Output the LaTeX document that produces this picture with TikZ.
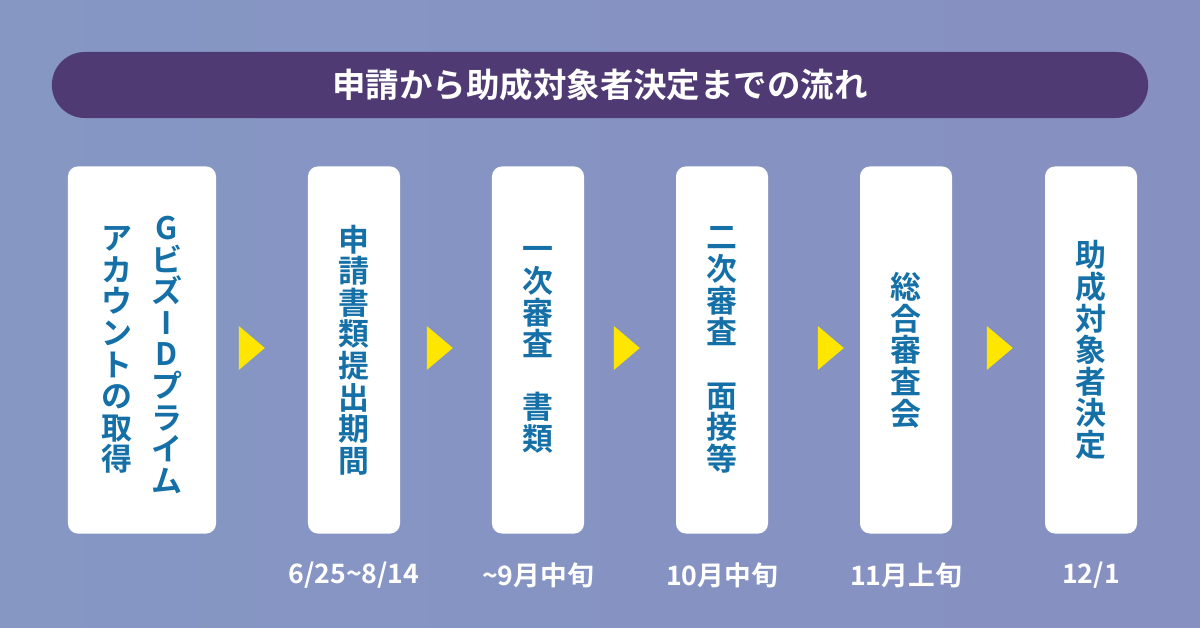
\documentclass[tikz,border=0pt]{standalone}
\usepackage{fontspec}
\setmainfont{Noto Sans CJK JP}[BoldFont={Noto Sans CJK JP Bold}]
\usetikzlibrary{shapes.geometric}
\definecolor{bgBlue}{RGB}{134,151,196}
\definecolor{bgLilac}{RGB}{134,144,193}
\definecolor{barPurple}{RGB}{79,58,116}
\definecolor{textBlue}{RGB}{21,112,168}
\definecolor{arrowYellow}{RGB}{255,230,0}

\begin{document}
\begin{tikzpicture}[x=0.025cm,y=-0.025cm,
  titlebar/.style={rectangle,fill=barPurple,rounded corners=0.825cm,
  minimum width=27.4cm,minimum height=1.65cm,text=white,
  font=\bfseries\fontsize{23.8}{28}\selectfont},
  stepbox/.style={rectangle,fill=white,rounded corners=0.25cm,
  minimum width=2.3cm,minimum height=9.175cm},
  vtext/.style={text=textBlue,font=\bfseries\fontsize{22}{22.5}\selectfont,
  align=center,inner sep=0pt},
  datelabel/.style={text=white,font=\bfseries\fontsize{19}{22}\selectfont},
  nextarrow/.style={isosceles triangle,isosceles triangle stretches,
  fill=arrowYellow,inner sep=0pt,minimum width=1.1cm,minimum height=0.65cm}]
%------------------------------------------------------------------------
% Background and title
%------------------------------------------------------------------------
\shade[left color=bgBlue,right color=bgLilac] (0,0) rectangle (1200,628);
\node[titlebar] (title) at (600,85) {申請から助成対象者決定までの流れ};
%------------------------------------------------------------------------
% The steps
%------------------------------------------------------------------------
\node[stepbox,minimum width=3.7cm] (s1) at (142,350) {};
\node[stepbox] (s2) at (354,350) {};
\node[stepbox] (s3) at (538,350) {};
\node[stepbox] (s4) at (722,350) {};
\node[stepbox] (s5) at (906,350) {};
\node[stepbox] (s6) at (1091,350) {};

\node[vtext] (t1a) at (167,355) {G\\ビ\\ズ\\I\\D\\プ\\ラ\\イ\\ム};
\node[vtext] (t1b) at (117,350) {ア\\カ\\ウ\\ン\\ト\\の\\取\\得};
\node[vtext] (t2) at (s2) {申\\請\\書\\類\\提\\出\\期\\間};
\node[vtext] (t3) at (s3) {一\\次\\審\\査\\　\\書\\類};
\node[vtext] (t4) at (s4) {二\\次\\審\\査\\　\\面\\接\\等};
\node[vtext] (t5) at (s5) {総\\合\\審\\査\\会};
\node[vtext] (t6) at (s6) {助\\成\\対\\象\\者\\決\\定};
%------------------------------------------------------------------------
% The arrows between the steps
%------------------------------------------------------------------------
\node[nextarrow] (a1) at (249,348) {};
\node[nextarrow] (a2) at (437,348) {};
\node[nextarrow] (a3) at (624,348) {};
\node[nextarrow] (a4) at (828,348) {};
\node[nextarrow] (a5) at (997,348) {};
%------------------------------------------------------------------------
% The dates
%------------------------------------------------------------------------
\node[datelabel] (d2) at (354,575) {6/25\textasciitilde 8/14};
\node[datelabel] (d3) at (538,575) {\textasciitilde 9月中旬};
\node[datelabel] (d4) at (722,575) {10月中旬};
\node[datelabel] (d5) at (906,575) {11月上旬};
\node[datelabel] (d6) at (1091,575) {12/1};

\end{tikzpicture}
\end{document}
